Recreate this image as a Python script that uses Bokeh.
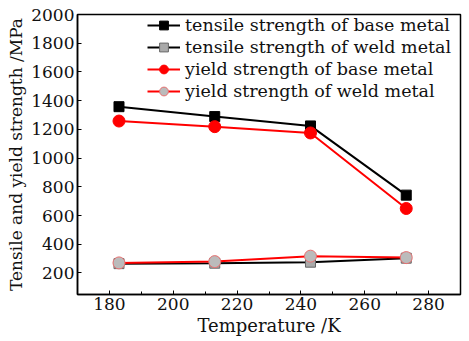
from bokeh.plotting import figure
from bokeh.models import Range1d, FixedTicker, Legend, LegendItem
from bokeh.embed import file_html
from bokeh.resources import INLINE

temperature = [183, 213, 243, 273]
tensile_base = [1358, 1289, 1224, 742]
tensile_weld = [265, 268, 275, 303]
yield_base = [1258, 1219, 1175, 649]
yield_weld = [270, 279, 317, 307]
x_ticks = [180, 200, 220, 240, 260, 280]
y_ticks = [200, 400, 600, 800, 1000, 1200, 1400, 1600, 1800, 2000]

FONT = "DejaVu Serif"

p = figure(width=469, height=341, output_backend="svg", toolbar_location=None,
           x_range=Range1d(170, 290), y_range=Range1d(50, 2000),
           min_border_left=77, min_border_right=9, min_border_top=14, min_border_bottom=47)
p.xgrid.visible = False
p.ygrid.visible = False
p.outline_line_color = "black"
p.outline_line_width = 1.5
p.background_fill_color = "white"
p.border_fill_color = "white"

for ax in (p.xaxis[0], p.yaxis[0]):
    ax.axis_line_color = "black"
    ax.axis_line_width = 1.5
    ax.major_tick_in = 4
    ax.major_tick_out = 0
    ax.minor_tick_in = 3
    ax.minor_tick_out = 0
    ax.major_label_text_font = FONT
    ax.major_label_text_font_size = "17px"
    ax.major_label_text_color = "#111111"
    ax.axis_label_text_font = FONT
    ax.axis_label_text_font_style = "normal"
    ax.axis_label_text_color = "#111111"
    ax.major_label_standoff = 3
    ax.axis_label_standoff = 2

p.xaxis[0].axis_label_text_font_size = "18px"
p.yaxis[0].axis_label_text_font_size = "17px"
p.xaxis[0].ticker = FixedTicker(ticks=x_ticks, minor_ticks=[190, 210, 230, 250, 270])
p.yaxis[0].ticker = FixedTicker(ticks=y_ticks, minor_ticks=[])
p.xaxis[0].axis_label = "Temperature /K"
p.yaxis[0].axis_label = "Tensile and yield strength /MPa"

r1l = p.line(temperature, tensile_base, line_color="black", line_width=2)
r1m = p.scatter(temperature, tensile_base, marker="square", size=10, fill_color="black", line_color="black")
r2l = p.line(temperature, tensile_weld, line_color="black", line_width=2)
r2m = p.scatter(temperature, tensile_weld, marker="square", size=10, fill_color="#aaaaaa", line_color="#666666")
r3l = p.line(temperature, yield_base, line_color="red", line_width=2)
r3m = p.scatter(temperature, yield_base, marker="circle", size=12, fill_color="red", line_color="red")
r4l = p.line(temperature, yield_weld, line_color="red", line_width=2)
r4m = p.scatter(temperature, yield_weld, marker="circle", size=12, fill_color="#bbbbbb", line_color="#e87070")

legend = Legend(items=[
    LegendItem(label="tensile strength of base metal", renderers=[r1l, r1m]),
    LegendItem(label="tensile strength of weld metal", renderers=[r2l, r2m]),
    LegendItem(label="yield strength of base metal", renderers=[r3l, r3m]),
    LegendItem(label="yield strength of weld metal", renderers=[r4l, r4m]),
], location=(70, 192))
legend.margin = 0
legend.padding = 0
legend.spacing = 0
legend.label_height = 22
legend.glyph_height = 22
legend.glyph_width = 33
legend.label_standoff = 5
legend.label_text_font = FONT
legend.label_text_font_size = "17.5px"
legend.label_text_color = "#111111"
legend.border_line_alpha = 0
legend.background_fill_alpha = 0
p.add_layout(legend)

open("out.html", "w").write(file_html(p, INLINE))
